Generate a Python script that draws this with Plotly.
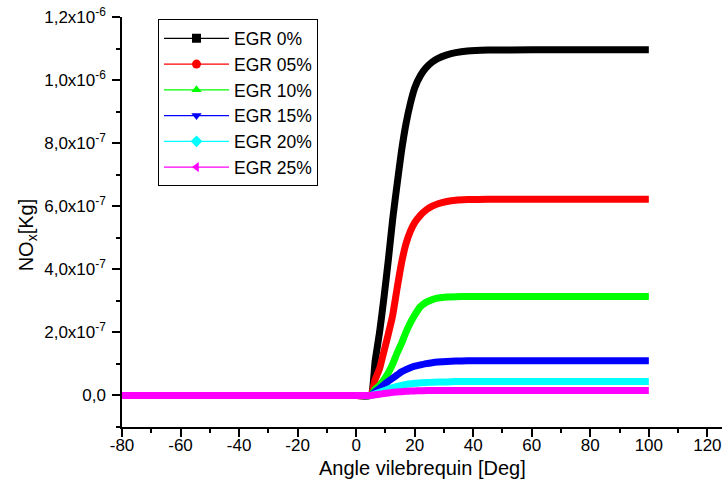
import plotly.graph_objects as go

# Crank angle (deg)
angle = [-80, -40, 0, 5, 6.5, 8, 9.5, 11, 12.5, 14, 15.5, 17, 18.5, 20, 22, 24, 26, 28, 31, 34, 38, 45, 60, 80, 100]

# NOx mass, in units of 1e-6 kg
egr_0 = [0, 0, 0, 0, 0.11, 0.20, 0.31, 0.43, 0.56, 0.67, 0.775, 0.86, 0.925, 0.975, 1.015, 1.040, 1.057, 1.069, 1.080, 1.087, 1.092, 1.095, 1.096, 1.096, 1.096]
egr_05 = [0, 0, 0, 0, 0.05, 0.085, 0.14, 0.195, 0.255, 0.34, 0.42, 0.48, 0.52, 0.548, 0.572, 0.589, 0.600, 0.608, 0.615, 0.619, 0.621, 0.622, 0.622, 0.622, 0.622]
egr_10 = [0, 0, 0, 0, 0.02, 0.032, 0.05, 0.072, 0.10, 0.135, 0.165, 0.20, 0.23, 0.255, 0.282, 0.296, 0.304, 0.309, 0.312, 0.313, 0.314, 0.314, 0.314, 0.314, 0.314]
egr_15 = [0, 0, 0, 0, 0.012, 0.022, 0.034, 0.045, 0.055, 0.065, 0.075, 0.082, 0.088, 0.093, 0.097, 0.101, 0.104, 0.106, 0.108, 0.109, 0.110, 0.110, 0.110, 0.110, 0.110]
egr_20 = [0, 0, 0, 0, 0.005, 0.010, 0.015, 0.020, 0.025, 0.029, 0.032, 0.035, 0.037, 0.039, 0.040, 0.041, 0.042, 0.043, 0.043, 0.044, 0.044, 0.044, 0.044, 0.044, 0.044]
egr_25 = [0, 0, 0, 0, 0.002, 0.004, 0.006, 0.008, 0.010, 0.011, 0.012, 0.013, 0.014, 0.0145, 0.015, 0.0155, 0.016, 0.016, 0.016, 0.016, 0.016, 0.016, 0.016, 0.016, 0.016]

series_names = ["EGR 0%", "EGR 05%", "EGR 10%", "EGR 15%", "EGR 20%", "EGR 25%"]
series_values = [egr_0, egr_05, egr_10, egr_15, egr_20, egr_25]
colors = ["#000000", "#FF0000", "#00FF00", "#0000FF", "#00FFFF", "#FF00FF"]
symbols = ["square", "circle", "triangle-up", "triangle-down", "diamond", "triangle-left"]

y_tickvals = [0, 2e-7, 4e-7, 6e-7, 8e-7, 1.0e-6, 1.2e-6]
y_ticktext = ["0,0", "2,0x10<sup>-7</sup>", "4,0x10<sup>-7</sup>", "6,0x10<sup>-7</sup>",
              "8,0x10<sup>-7</sup>", "1,0x10<sup>-6</sup>", "1,2x10<sup>-6</sup>"]
x_tickvals = [-80, -60, -40, -20, 0, 20, 40, 60, 80, 100, 120]
x_ticktext = ["-80", "-60", "-40", "-20", "0", "20", "40", "60", "80", "100", "120"]

FONT = "Arial, 'Liberation Sans', sans-serif"

fig = go.Figure()
for name, vals, col in zip(series_names, series_values, colors):
    fig.add_trace(go.Scatter(
        x=angle, y=[v * 1e-6 for v in vals], mode="lines",
        line=dict(color=col, width=7, shape="spline", smoothing=0.45),
        showlegend=False, hoverinfo="skip"))
for name, col, sym in zip(series_names, colors, symbols):
    fig.add_trace(go.Scatter(
        x=[None], y=[None], mode="lines+markers", name=name,
        line=dict(color=col, width=1.2),
        marker=dict(symbol=sym, size=9, color=col)))

fig.update_layout(
    width=722, height=492,
    margin=dict(l=122, r=0, t=17, b=65),
    plot_bgcolor="white", paper_bgcolor="white",
    font=dict(family=FONT, color="black", size=17),
    legend=dict(x=0.06, y=0.994, xanchor="left", yanchor="top",
                bordercolor="black", borderwidth=1, bgcolor="white",
                font=dict(size=17.5, family=FONT), itemwidth=65,
                tracegroupgap=0),
    xaxis=dict(range=[-80, 125], showgrid=False, zeroline=False,
               showline=True, linecolor="black", linewidth=1.5,
               tickmode="array", tickvals=x_tickvals, ticktext=x_ticktext,
               ticks="outside", ticklen=8, tickwidth=1.5, tickcolor="black",
               tickfont=dict(size=17), ticklabelstandoff=-6,
               ticklabeloverflow="allow",
               minor=dict(tickmode="linear", tick0=-80, dtick=10, ticks="outside",
                          ticklen=4, tickwidth=1.5, tickcolor="black", showgrid=False)),
    yaxis=dict(range=[-1e-7, 1.2e-6], showgrid=False, zeroline=False,
               showline=True, linecolor="black", linewidth=1.5,
               tickmode="array", tickvals=y_tickvals, ticktext=y_ticktext,
               ticks="outside", ticklen=8, tickwidth=1.5, tickcolor="black",
               tickfont=dict(size=17), ticklabelstandoff=3,
               ticklabeloverflow="allow",
               minor=dict(tickmode="linear", tick0=-1e-7, dtick=1e-7, ticks="outside",
                          ticklen=4, tickwidth=1.5, tickcolor="black", showgrid=False)),
    annotations=[
        dict(text="Angle vilebrequin [Deg]", xref="paper", yref="paper",
             x=0.5, y=-0.1, xanchor="center", yanchor="middle",
             showarrow=False, font=dict(size=20, family=FONT)),
        dict(text="NO<sub>x</sub>[Kg]", xref="paper", yref="paper",
             x=-0.158, y=0.468, xanchor="center", yanchor="middle", textangle=-90,
             showarrow=False, font=dict(size=20, family=FONT)),
    ],
)

# The figure fills the whole 722x492 page (no default body margin).
fig.write_html("out.html", config={"displayModeBar": False},
               post_script="document.body.style.margin='0';")
